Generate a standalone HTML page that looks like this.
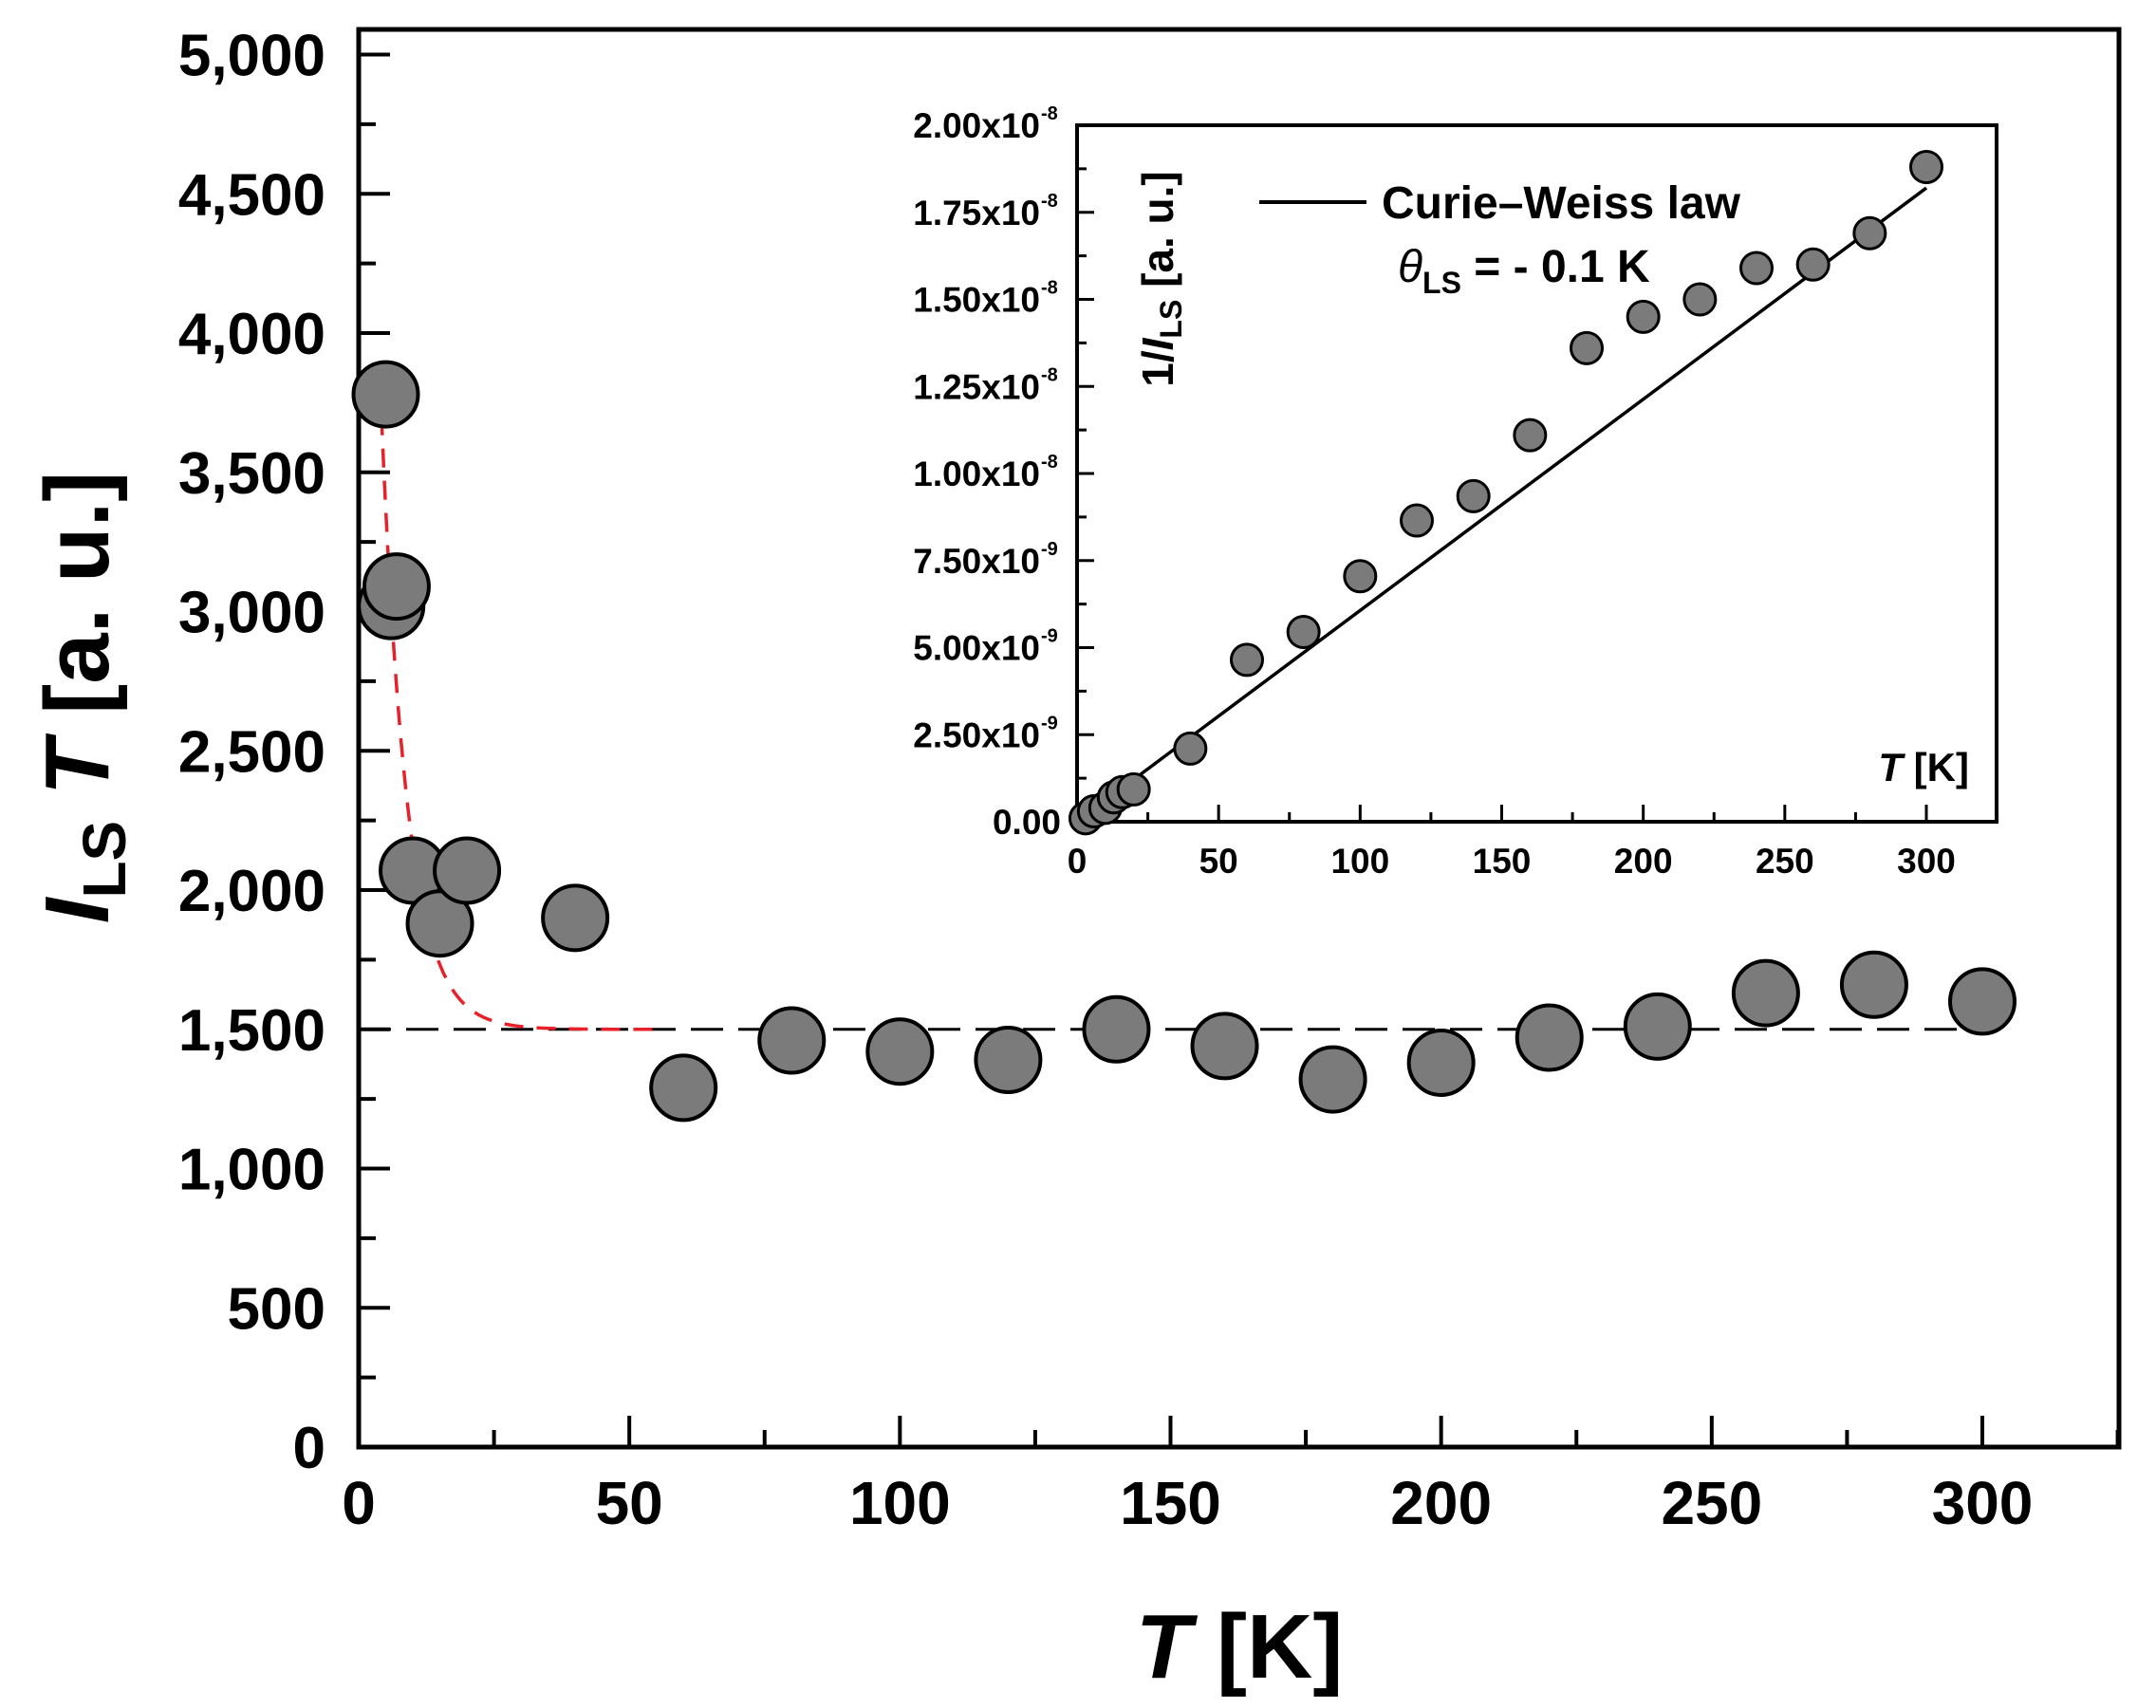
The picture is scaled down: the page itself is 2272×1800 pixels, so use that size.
<!DOCTYPE html>
<html><head><meta charset="utf-8"><style>
html,body{margin:0;padding:0;background:#fff;}
svg{display:block;font-family:"Liberation Sans",Arial,sans-serif;font-weight:bold;}
</style></head><body>
<svg id="chart" width="2272" height="1800" viewBox="0 0 2272 1800" xmlns="http://www.w3.org/2000/svg">
<g id="main"></g>
<g id="inset"></g>
<text x="1306" y="1768" font-size="96" text-anchor="middle"><tspan font-style="italic">T</tspan> [K]</text>
<text transform="translate(114,735) rotate(-90)" font-size="96" text-anchor="middle"><tspan font-style="italic">I</tspan><tspan font-size="64" dy="18">LS</tspan><tspan dy="-18" font-style="italic"> T</tspan> [a. u.]</text>
<text transform="translate(1236,294) rotate(-90)" font-size="46" text-anchor="middle">1/<tspan font-style="italic">I</tspan><tspan font-size="32" dy="9">LS</tspan><tspan dy="-9"> [a. u.]</tspan></text>
<text x="2075" y="823" font-size="42" text-anchor="end"><tspan font-style="italic">T</tspan> [K]</text>
<line x1="1327" y1="213" x2="1440" y2="213" stroke="#000" stroke-width="4"/>
<text x="1456" y="230" font-size="48">Curie–Weiss law</text>
<text x="1473" y="297" font-size="48"><tspan font-style="italic" font-weight="normal">θ</tspan><tspan font-size="32" dy="12">LS</tspan><tspan dy="-12"> = - 0.1 K</tspan></text>
</svg>
<script>
// Main chart data
const mainT = [5, 6, 7, 10, 15, 20, 40, 60, 80, 100, 120, 140, 160, 180, 200, 220, 240, 260, 280, 300];
const mainV = [3780, 3020, 3090, 2070, 1880, 2070, 1900, 1290, 1460, 1420, 1390, 1500, 1440, 1320, 1380, 1470, 1510, 1630, 1660, 1600];
const mainXTicks = [0, 50, 100, 150, 200, 250, 300];
const mainYTicks = [0, 500, 1000, 1500, 2000, 2500, 3000, 3500, 4000, 4500, 5000];
const mainYLabels = ["0", "500", "1,000", "1,500", "2,000", "2,500", "3,000", "3,500", "4,000", "4,500", "5,000"];
const baseline = [1500];
const fitA = [5280], fitTau = [4.8], fitRange = [4.2, 55];
// Inset data
const insetT = [3, 6, 10, 13, 16, 20, 40, 60, 80, 100, 120, 140, 160, 180, 200, 220, 240, 260, 280, 300];
const insetV = [0.1e-9, 0.3e-9, 0.4e-9, 0.7e-9, 0.85e-9, 0.93e-9, 2.1e-9, 4.65e-9, 5.45e-9, 7.05e-9, 8.65e-9, 9.35e-9, 11.1e-9, 13.6e-9, 14.5e-9, 15.0e-9, 15.9e-9, 16.0e-9, 16.9e-9, 18.8e-9];
const cwLineT = [0, 300];
const cwLineV = [0, 18.2e-9];
const insetXTicks = [0, 50, 100, 150, 200, 250, 300];
const insetYTicks = [0, 2.5e-9, 5e-9, 7.5e-9, 10e-9, 12.5e-9, 15e-9, 17.5e-9, 20e-9];
const insetYMant = ["0.00", "2.50x10", "5.00x10", "7.50x10", "1.00x10", "1.25x10", "1.50x10", "1.75x10", "2.00x10"];
const insetYExp = ["", "-9", "-9", "-9", "-8", "-8", "-8", "-8", "-8"];

const NS = "http://www.w3.org/2000/svg";
function mk(parent, tag, attrs){const e=document.createElementNS(NS,tag);for(const k in attrs)e.setAttribute(k,attrs[k]);parent.appendChild(e);return e;}

// main axes
const mL=378,mR=2233,mT=31,mB=1525;
const mX=t=>mL+t*(2089-378)/300;
const mY=v=>1525-v*0.2935;
const main=document.getElementById('main');
let fr=mk(main,'rect',{x:mL,y:mT,width:mR-mL,height:mB-mT,fill:'none',stroke:'#000','stroke-width':5});


for(let v=0;v<=5000;v+=250){const maj=v%500===0;
 const l=mk(main,'line',{x1:mL,x2:mL+(maj?33:18),y1:mY(v),y2:mY(v),stroke:'#000','stroke-width':4});
 
 }
mainYTicks.forEach((v,i)=>{const t=mk(main,'text',{x:343,y:mY(v)+22,'font-size':62,'text-anchor':'end'});t.textContent=mainYLabels[i];
 
 });
for(let t=0;t<=325;t+=25){const maj=t%50===0;
 const l=mk(main,'line',{x1:mX(t),x2:mX(t),y1:mB,y2:mB-(maj?33:18),stroke:'#000','stroke-width':4});
 
 }
mainXTicks.forEach(t=>{const e=mk(main,'text',{x:mX(t),y:1606,'font-size':64,'text-anchor':'middle'});e.textContent=t;
 
 });
let bl=mk(main,'line',{x1:mX(0),x2:mX(300),y1:mY(baseline[0]),y2:mY(baseline[0]),stroke:'#000','stroke-width':3,'stroke-dasharray':'34 16'});


let pts=[];for(let t=fitRange[0];t<=fitRange[1];t+=0.5){pts.push(mX(t).toFixed(1)+','+mY(baseline[0]+fitA[0]*Math.exp(-t/fitTau[0])).toFixed(1));}
let fc=mk(main,'polyline',{points:pts.join(' '),fill:'none',stroke:'#e8202a','stroke-width':3.5,'stroke-dasharray':'20 14'});


mainT.forEach((t,i)=>{const c=mk(main,'circle',{cx:mX(t),cy:mY(mainV[i]),r:34,fill:'#7b7b7b',stroke:'#000','stroke-width':4});
 
 });

// inset
const iL=1135,iR=2104,iT=132,iB=866;
const iX=t=>iL+t*(2030-1135)/300;
const iY=v=>iB-v/2e-8*(iB-iT);
const ins=document.getElementById('inset');
let ir=mk(ins,'rect',{x:iL,y:iT,width:iR-iL,height:iB-iT,fill:'#fff',stroke:'#000','stroke-width':4});


for(let k=0;k<=16;k++){const v=k*1.25e-9;const maj=k%2===0;
 const l=mk(ins,'line',{x1:iL,x2:iL+(maj?18:10),y1:iY(v),y2:iY(v),stroke:'#000','stroke-width':3});
 
 }
insetYTicks.forEach((v,i)=>{const t=mk(ins,'text',{x:insetYExp[i]?1096:1118,y:iY(v)+13,'font-size':37,'text-anchor':'end'});t.textContent=insetYMant[i];
 
 
 if(insetYExp[i]){const s=mk(ins,'text',{x:1097,y:iY(v)-6,'font-size':20});s.textContent=insetYExp[i];
 
 }});
for(let t=0;t<=325;t+=25){const maj=t%50===0;
 const l=mk(ins,'line',{x1:iX(t),x2:iX(t),y1:iB,y2:iB-(maj?18:10),stroke:'#000','stroke-width':3});
 
 }
insetXTicks.forEach(t=>{const e=mk(ins,'text',{x:iX(t),y:920,'font-size':37,'text-anchor':'middle'});e.textContent=t;
 
 });
let cw=mk(ins,'line',{x1:iX(cwLineT[0]),y1:iY(cwLineV[0]),x2:iX(cwLineT[1]),y2:iY(cwLineV[1]),stroke:'#000','stroke-width':3.5});


insetT.forEach((t,i)=>{const c=mk(ins,'circle',{cx:iX(t),cy:iY(insetV[i]),r:16.5,fill:'#7b7b7b',stroke:'#000','stroke-width':3});
 
 });
</script>
</body></html>
